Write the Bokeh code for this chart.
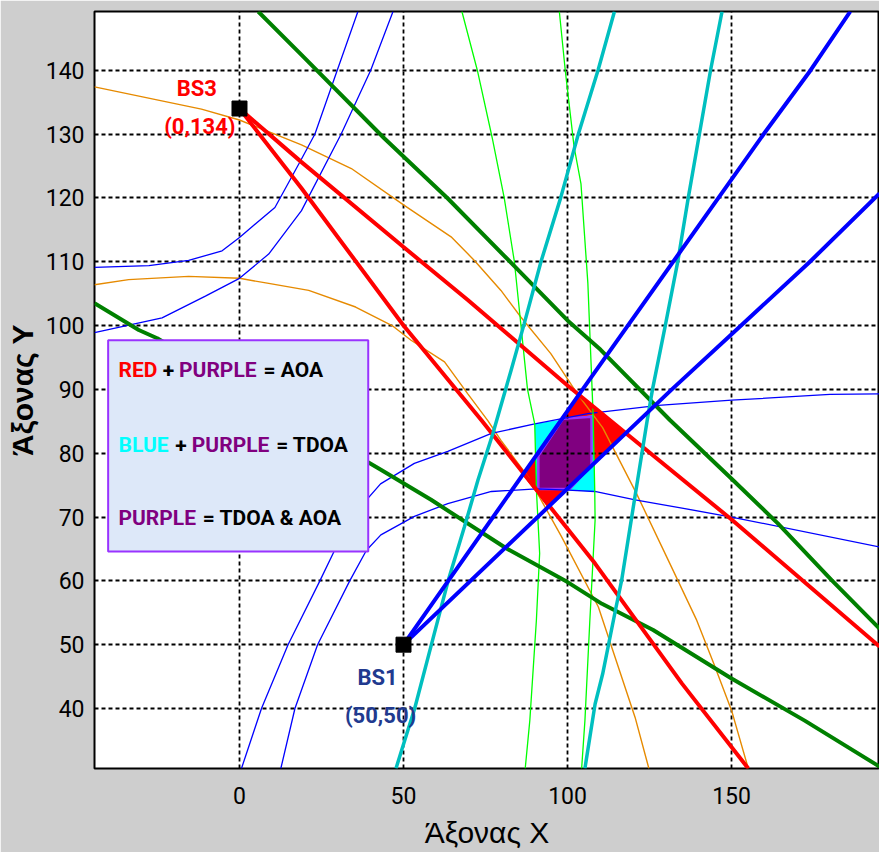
from bokeh.plotting import figure
from bokeh.models import Range1d, FixedTicker, Label, BoxAnnotation
from bokeh.embed import file_html
from bokeh.resources import INLINE

NARROW = "Roboto"
WIDE = "Liberation Sans"

# ---------------- data ----------------
x_ticks = [0, 50, 100, 150]
y_ticks = [40, 50, 60, 70, 80, 90, 100, 110, 120, 130, 140]

bs_x = [0, 50]
bs_y = [134, 50]

# AOA bounds from BS3 (red)
red_a_x = [0, 18.9, 50, 73.7, 108.4, 134.9, 155.1]
red_a_y = [134, 121.5, 100, 85.2, 62.7, 43.9, 30.6]
red_b_x = [0, 18.9, 50, 69.6, 100, 150, 195.1]
red_b_y = [134, 125.6, 112.3, 104, 90.6, 69.6, 49.7]

# dark green bounds
g1_x = [5.7, 18.9, 44.2, 63.5, 83.8, 100, 110.1, 131.2, 150, 164.1, 180.5, 195.1]
g1_y = [149.2, 142.4, 129.3, 119.9, 109.3, 100.8, 96.2, 85.2, 76.0, 69, 60.1, 52.5]
g2_x = [-44.2, -30.7, -25.1, 43.1, 58.4, 81.3, 100, 110.5, 126.1, 150, 172.3, 195.1]
g2_y = [103.5, 99.3, 98, 77.4, 72.7, 65.1, 59.8, 56.4, 52.3, 44.7, 38.1, 30.9]

# AOA bounds from BS1 (blue)
bl1_x = [50, 104.6, 159.8, 174.1, 186.2]
bl1_y = [50, 90, 130, 140, 149.2]
bl2_x = [50, 131.8, 152.9, 173.9, 195.1]
bl2_y = [50, 90, 100, 110, 120.7]

# cyan
c1_x = [47.7, 53.4, 58.5, 63.6, 68.6, 72.7, 77.2, 82.8, 86.8, 91.9, 97.9, 103.3, 109.3, 114.3]
c1_y = [30.6, 40, 50, 60, 68.5, 75.8, 83, 93, 100.3, 110, 120, 130, 140, 149.2]
c2_x = [105.3, 108.4, 110.7, 114.8, 116.5, 120.4, 124.3, 125.9, 129.8, 133.6, 136.8, 140.2, 143.6, 147.1]
c2_y = [30.6, 40.7, 45.4, 55.9, 60.1, 72.7, 85.2, 90, 100, 110, 120, 130, 140, 149.2]

# thin light green
lg1_x = [67.8, 72.5, 77.0, 80.7, 83.8, 85.8, 87.8, 90.0, 90.5, 91.5, 90.5, 88.5, 87.1]
lg1_y = [149.2, 140, 129.5, 120, 110, 100, 90, 84.6, 74.4, 64.3, 53.8, 38.1, 30.6]
lg2_x = [97.5, 99.3, 102, 104.1, 106.2, 107.8, 108.3, 108.4, 106.8, 105.3, 104.3]
lg2_y = [149.2, 140, 128, 122.2, 106.6, 86, 74, 69.5, 53.8, 38.1, 30.6]

# thin blue hyperbolas
tb1_x = [-44.2, -27.6, -15.5, -5.3, 0, 10.8, 18.7, 23, 29.8, 36.1]
tb1_y = [109.1, 109.4, 110.2, 111.7, 113.8, 118.5, 125.9, 130, 140, 149.2]
tb2_x = [-44.2, -23.6, -10.4, 0, 8.9, 18.9, 31, 40, 46.8]
tb2_y = [98.9, 101.2, 104.6, 107.4, 111.2, 118, 130, 140, 149.2]
tb3_x = [0.6, 6.7, 14.8, 24.5, 29.0, 35, 43, 53.3, 63.5, 76.8, 90, 106.2, 127.7, 150, 180, 195.1]
tb3_y = [30.6, 40, 50, 60, 64.8, 70.5, 75.2, 78.4, 80.3, 83.1, 84.6, 86.2, 87.5, 88.3, 89.2, 89.3]
tb4_x = [12.6, 16.9, 23.8, 33.6, 38.7, 43.1, 53.3, 63.5, 76.8, 90.5, 100.2, 108.3, 120.6, 134.9, 150, 195.1]
tb4_y = [30.6, 40, 50, 60, 64.8, 67.2, 70.1, 72.1, 74, 74.4, 74.2, 74, 72.7, 71.4, 70, 65.3]

# orange
or1_x = [-44.2, -11.6, 0, 18.9, 34.1, 50, 64.5, 71.6, 79.7, 85.8, 94.9, 103, 110.7, 121, 131.2, 139.4, 144.6, 150, 155.1]
or1_y = [137.4, 133.9, 132.2, 128.3, 124.6, 118.9, 113.9, 110.2, 105.5, 101.3, 95.6, 89.3, 84, 73.7, 62.7, 53.8, 47, 39.7, 30.6]
or2_x = [-44.2, -33.8, -15.5, 0, 8.9, 21.1, 35.4, 46.5, 52.3, 62.5, 69.6, 75.7, 79.7, 88, 98.2, 109.4, 120.6, 124.8]
or2_y = [106.4, 107.2, 107.7, 107.4, 106.6, 105.5, 102.9, 100, 97.7, 94.3, 89.3, 85.1, 82, 76.3, 66.9, 55.9, 38.6, 30.6]

# regions
red_px = [86.4, 103.7, 117.9, 94.1]
red_py = [76.5, 89.2, 83.1, 71.4]
cyan_px = [90.0, 107.8, 108.3, 90.5]
cyan_py = [84.6, 86.0, 74.0, 74.4]
pur_px = [91.1, 98.6, 107.3, 107.3, 100.7, 91.1]
pur_py = [79.6, 85.4, 85.7, 78.1, 74.4, 74.4]

# ---------------- figure ----------------
p = figure(width=879, height=852, x_range=Range1d(-44.2, 195.1), y_range=Range1d(30.6, 149.2),
           output_backend="svg", toolbar_location=None,
           min_border_left=94, min_border_right=0, min_border_top=11, min_border_bottom=84)
p.background_fill_color = "white"
p.border_fill_color = "#cecece"
p.outline_line_color = "black"
p.outline_line_width = 2

for ax in (p.xaxis[0], p.yaxis[0]):
    ax.axis_line_color = None
    ax.major_tick_line_color = None
    ax.minor_tick_line_color = None
    ax.major_tick_out = 0
    ax.major_tick_in = 0
    ax.minor_tick_out = 0
    ax.minor_tick_in = 0
    ax.major_label_text_font = NARROW
    ax.major_label_text_font_size = "23px"
    ax.major_label_text_color = "black"
p.xaxis.major_label_standoff = 18
p.yaxis.major_label_standoff = 10
p.xaxis.ticker = FixedTicker(ticks=x_ticks)
p.yaxis.ticker = FixedTicker(ticks=y_ticks)

p.yaxis.axis_label = "Άξονας Υ"
p.yaxis.axis_label_text_font = WIDE
p.yaxis.axis_label_text_font_style = "bold"
p.yaxis.axis_label_text_font_size = "30px"
p.yaxis.axis_label_text_color = "black"
p.yaxis.axis_label_standoff = 4

p.xaxis.axis_label = "Άξονας Χ"
p.xaxis.axis_label_text_font = WIDE
p.xaxis.axis_label_text_font_style = "normal"
p.xaxis.axis_label_text_font_size = "30px"
p.xaxis.axis_label_text_color = "black"
p.xaxis.axis_label_standoff = 9

for g in (p.xgrid[0], p.ygrid[0]):
    g.grid_line_color = "black"
    g.grid_line_dash = "4 3"
    g.grid_line_width = 1.8

# regions (below grid)
p.patch(red_px, red_py, fill_color="#ff0000", line_color=None, level="underlay")
p.patch(cyan_px, cyan_py, fill_color="#00ffff", line_color=None, level="underlay")
p.patch(pur_px, pur_py, fill_color="#800080", line_color="#9933ff", line_width=2.5, level="underlay")

# thin curves
for xs, ys in ((or1_x, or1_y), (or2_x, or2_y)):
    p.line(xs, ys, line_color="#e68a00", line_width=1.4)
for xs, ys in ((tb1_x, tb1_y), (tb2_x, tb2_y), (tb3_x, tb3_y), (tb4_x, tb4_y)):
    p.line(xs, ys, line_color="#0000ff", line_width=1.3)
for xs, ys in ((lg1_x, lg1_y), (lg2_x, lg2_y)):
    p.line(xs, ys, line_color="#00ff00", line_width=1.3)

# thick lines
for xs, ys in ((g1_x, g1_y), (g2_x, g2_y)):
    p.line(xs, ys, line_color="#008000", line_width=4)
for xs, ys in ((red_a_x, red_a_y), (red_b_x, red_b_y)):
    p.line(xs, ys, line_color="#ff0000", line_width=4)
for xs, ys in ((c1_x, c1_y), (c2_x, c2_y)):
    p.line(xs, ys, line_color="#00bfbf", line_width=3.5)
for xs, ys in ((bl1_x, bl1_y), (bl2_x, bl2_y)):
    p.line(xs, ys, line_color="#0000ff", line_width=4)

p.scatter(bs_x, bs_y, marker="square", size=15, fill_color="black", line_color="black")

# ---------------- annotations ----------------
def dx(px):
    return (px - 238.5) / 3.2667


def dy(py):
    return 40 + (708 - py) / 6.38


def lab(x, y, text, color, size="22px", font=NARROW, style="bold", align="left"):
    p.add_layout(Label(x=x, y=y, text=text, text_color=color, text_font=font,
                       text_font_size=size, text_font_style=style,
                       text_align=align, text_baseline="middle"))


lab(dx(196), dy(88), "BS3", "#ff0000", align="center")
lab(dx(199), dy(126), "(0,134)", "#ff0000", align="center")
lab(dx(376), dy(677), "BS1", "#213a8f", align="center")
lab(dx(379), dy(715), "(50,50)", "#213a8f", align="center")

p.add_layout(BoxAnnotation(left=dx(107.7), right=dx(366.7), top=dy(340), bottom=dy(551),
                           fill_color="#dde8f9", fill_alpha=1.0,
                           line_color="#9933ff", line_alpha=1.0, line_width=2))

rows = [
    (370, [("RED", "#ff0000", 118), ("+", "black", 162), ("PURPLE", "#800080", 178.3), ("= AOA", "black", 262.5)]),
    (445, [("BLUE", "#00ffff", 118), ("+", "black", 174.5), ("PURPLE", "#800080", 191), ("= TDOA", "black", 275)]),
    (518, [("PURPLE", "#800080", 118), ("= TDOA & AOA", "black", 202)]),
]
for py, segs in rows:
    for text, color, px in segs:
        lab(dx(px), dy(py), text, color, size="21px")

open("out.html", "w").write(file_html(p, INLINE))
